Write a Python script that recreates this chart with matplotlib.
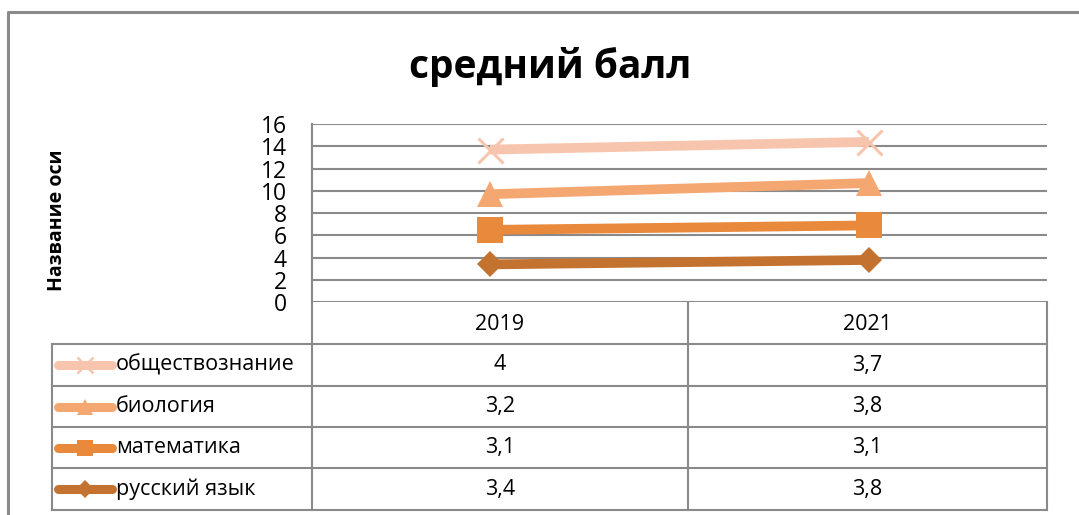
import numpy as np
import matplotlib
matplotlib.use("Agg")
import matplotlib.pyplot as plt

plt.rcParams['font.family'] = ['Open Sans', 'DejaVu Sans']

# data
years = ["2019", "2021"]
subjects = ["русский язык", "математика", "биология", "обществознание"]
values = {
    "русский язык": [3.4, 3.8],
    "математика": [3.1, 3.1],
    "биология": [3.2, 3.8],
    "обществознание": [4, 3.7],
}
colors = {
    "русский язык": "#C4722F",
    "математика": "#E8893C",
    "биология": "#F5A772",
    "обществознание": "#F7C5AD",
}
markers = {"русский язык": "D", "математика": "s", "биология": "^", "обществознание": "x"}
msizes = {"русский язык": 13.5, "математика": 18.5, "биология": 18.5, "обществознание": 18}
yticks = [0, 2, 4, 6, 8, 10, 12, 14, 16]

W, H = 1079, 515
grid_c = "#8A8A8A"
fsize = 15.5

fig = plt.figure(figsize=(W / 100, H / 100), dpi=100)

# plot area in pixels
left, right, top, bottom = 312, 1047, 124, 302.3
ax = fig.add_axes([left / W, 1 - bottom / H, (right - left) / W, (bottom - top) / H])

x = np.arange(len(years))
cum = np.zeros(len(years))
for s in subjects:
    cum = cum + np.array(values[s])
    filled = markers[s] != "x"
    ax.plot(x, cum, color=colors[s], linewidth=7, solid_capstyle="butt",
            marker=markers[s], markersize=msizes[s],
            markeredgewidth=0 if filled else 2.2, markeredgecolor=colors[s],
            zorder=5)

ax.set_xlim(-0.47, 1.47)
ax.set_ylim(0, 16)
ax.set_yticks(yticks)
ax.set_yticklabels([str(t) for t in yticks], fontsize=16.5)
ax.set_xticks([])
ax.tick_params(axis="y", length=0, pad=18)
ax.grid(axis="y", color=grid_c, linewidth=1.5, zorder=1)
for sp in ["top", "right", "bottom"]:
    ax.spines[sp].set_visible(False)
ax.spines["left"].set_color(grid_c)
ax.spines["left"].set_linewidth(1.5)

# title and axis label
fig.text(550 / W, 1 - 67 / H, "средний балл", fontsize=28, fontweight="bold",
         ha="center", va="center")
fig.text(57 / W, 1 - 220 / H, "Название оси", fontsize=14, fontweight="bold",
         rotation=90, ha="center", va="center")

# overlay in pixel coordinates for the frame and data table
tab = fig.add_axes([0, 0, 1, 1], zorder=-1)
tab.set_xlim(0, W)
tab.set_ylim(H, 0)
tab.axis("off")

# outer chart frame
tab.plot([8, 8, W], [H, 12, 12], color="#8A8A8A", linewidth=2.2)

col_x = [left, 688, right]
row_y = [bottom, 344, 386, 427, 468, 510]
leg_left = 52

# table lines
for cx in col_x:
    tab.plot([cx, cx], [top if cx == left else bottom, row_y[-1]], color=grid_c, linewidth=1.5)
tab.plot([leg_left, leg_left], [row_y[1], row_y[-1]], color=grid_c, linewidth=1.5)
for ry in row_y[1:]:
    tab.plot([leg_left, right], [ry, ry], color=grid_c, linewidth=1.5)

# header
for i, yr in enumerate(years):
    tab.text((col_x[i] + col_x[i + 1]) / 2, (row_y[0] + row_y[1]) / 2 + 1, yr,
             fontsize=fsize, ha="center", va="center")

# rows: top row is the last stacked series
for r, s in enumerate(subjects[::-1]):
    yc = (row_y[r + 1] + row_y[r + 2]) / 2
    filled = markers[s] != "x"
    tab.plot([58, 112], [yc, yc], color=colors[s], linewidth=6.5, solid_capstyle="round")
    tab.plot([85], [yc], color=colors[s], marker=markers[s],
             markersize=msizes[s] * 0.65, markeredgewidth=0 if filled else 1.8,
             markeredgecolor=colors[s])
    tab.text(116, yc, s, fontsize=fsize, ha="left", va="center")
    for i in range(len(years)):
        v = values[s][i]
        txt = ("%g" % v).replace(".", ",")
        tab.text((col_x[i] + col_x[i + 1]) / 2, yc, txt, fontsize=fsize,
                 ha="center", va="center")

plt.savefig("out.png", dpi=100, facecolor="white")
